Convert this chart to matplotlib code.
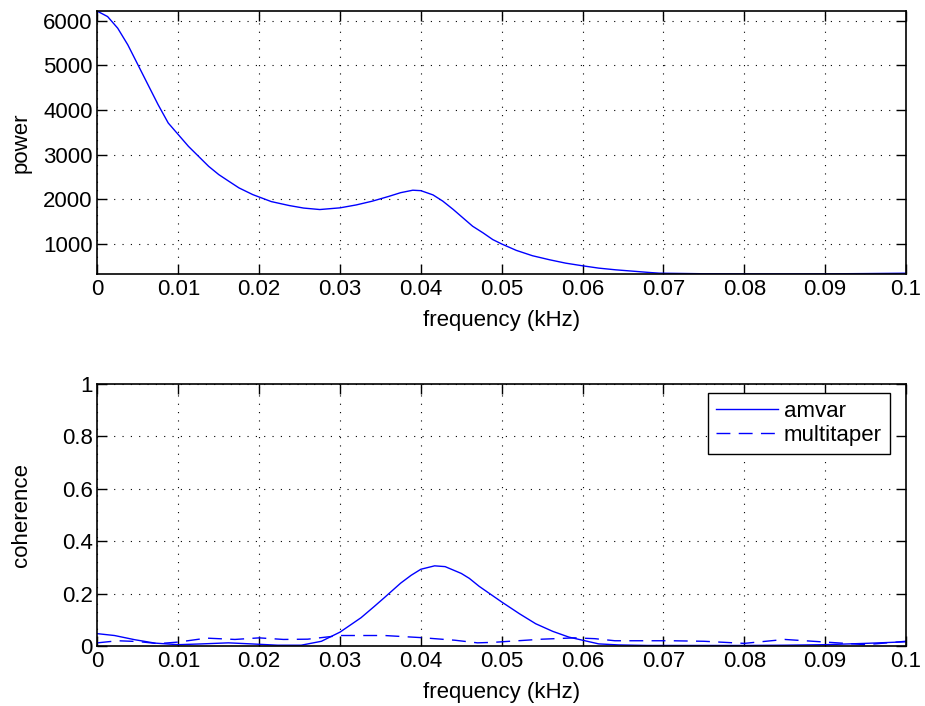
import matplotlib
matplotlib.use("Agg")
import matplotlib.pyplot as plt
import numpy as np

plt.rcParams['font.family'] = ['Liberation Sans', 'DejaVu Sans']
plt.rcParams['font.size'] = 16

# power spectrum
f_pow = [0, 0.00125, 0.0025, 0.00375, 0.005, 0.00625, 0.0075, 0.00875, 0.01, 0.01125,
         0.0125, 0.01375, 0.015, 0.01625, 0.0175, 0.0192, 0.0215, 0.0237, 0.0255, 0.0275,
         0.03, 0.032, 0.034, 0.036, 0.0375, 0.039, 0.04, 0.0415, 0.0427, 0.044,
         0.0452, 0.0464, 0.0477, 0.0489, 0.05, 0.0518, 0.0538, 0.0559, 0.0579, 0.06,
         0.062, 0.0641, 0.0662, 0.0683, 0.0695, 0.075, 0.08, 0.085, 0.09, 0.095, 0.1]
power = [6215, 6096, 5836, 5463, 5016, 4568, 4121, 3711, 3450, 3188,
         2964, 2740, 2555, 2405, 2257, 2107, 1950, 1862, 1805, 1772,
         1810, 1875, 1960, 2065, 2150, 2205, 2195, 2100, 1962, 1774,
         1586, 1398, 1248, 1098, 1000, 857, 737, 647, 571, 511,
         459, 421, 391, 361, 346, 333, 330, 329, 331, 337, 345]

# coherence, amvar (solid)
f_am = [0, 0.0021, 0.0046, 0.0071, 0.01, 0.0129, 0.0162, 0.019, 0.0223, 0.0252,
        0.0277, 0.03, 0.0326, 0.0342, 0.0355, 0.0375, 0.0388, 0.04, 0.0417, 0.043,
        0.045, 0.046, 0.0472, 0.05, 0.0522, 0.0542, 0.0563, 0.0583, 0.06, 0.062,
        0.0645, 0.068, 0.075, 0.08, 0.085, 0.09, 0.095, 0.1]
coh_am = [0.047, 0.040, 0.024, 0.011, 0.005, 0.008, 0.012, 0.008, 0.003, 0.003,
          0.018, 0.053, 0.108, 0.15, 0.185, 0.24, 0.27, 0.293, 0.306, 0.303,
          0.277, 0.258, 0.228, 0.168, 0.123, 0.085, 0.056, 0.034, 0.022, 0.008,
          0.004, 0.002, 0.002, 0.002, 0.003, 0.005, 0.01, 0.016]

# coherence, multitaper (dashed)
f_mt = [0, 0.0025, 0.005, 0.0075, 0.01, 0.0135, 0.017, 0.02, 0.023, 0.026,
        0.028, 0.03, 0.033, 0.0355, 0.04, 0.0442, 0.047, 0.049, 0.052, 0.055,
        0.059, 0.0615, 0.064, 0.067, 0.071, 0.075, 0.08, 0.085, 0.09, 0.095, 0.1]
coh_mt = [0.012, 0.02, 0.017, 0.009, 0.015, 0.03, 0.025, 0.031, 0.025, 0.026,
          0.033, 0.04, 0.04, 0.04, 0.032, 0.022, 0.012, 0.014, 0.02, 0.026,
          0.031, 0.028, 0.02, 0.02, 0.02, 0.018, 0.01, 0.025, 0.015, 0.005, 0.018]

fig = plt.figure(figsize=(9.25, 7.06), dpi=100)
ax1 = fig.add_axes([0.1054, 0.612, 0.874, 0.3726])
ax2 = fig.add_axes([0.1054, 0.085, 0.874, 0.371])

def style(ax):
    ax.grid(True, linestyle=(0, (1, 6.5)), color='black', linewidth=0.8)
    ax.tick_params(direction='in', top=True, right=True, length=7, width=1)
    for s in ax.spines.values():
        s.set_linewidth(1.2)
    ax.set_xlim(0, 0.1)
    ax.set_xticks(np.arange(0, 0.101, 0.01))
    ax.set_xticklabels(['0', '0.01', '0.02', '0.03', '0.04', '0.05', '0.06',
                        '0.07', '0.08', '0.09', '0.1'])
    ax.set_xlabel('frequency (kHz)', labelpad=7)
    ax.yaxis.set_label_coords(-0.081, 0.5)

ax1.plot(f_pow, power, color='blue', linewidth=1)
style(ax1)
ax1.set_ylim(329, 6224)
ax1.set_yticks([1000, 2000, 3000, 4000, 5000, 6000])
ax1.set_ylabel('power')

ax2.plot(f_am, coh_am, color='blue', linewidth=1, label='amvar')
ax2.plot(f_mt, coh_mt, color='blue', linewidth=1, linestyle=(0, (10, 6)), label='multitaper')
style(ax2)
ax2.set_ylim(0, 1)
ax2.set_yticks([0, 0.2, 0.4, 0.6, 0.8, 1])
ax2.set_yticklabels(['0', '0.2', '0.4', '0.6', '0.8', '1'])
ax2.set_ylabel('coherence')
leg = ax2.legend(loc='upper right', bbox_to_anchor=(0.98, 0.966), borderaxespad=0,
                 fancybox=False, framealpha=1, edgecolor='black',
                 handlelength=2.8, handletextpad=0.25, labelspacing=0.15, borderpad=0.35)
leg.get_frame().set_linewidth(1)

fig.savefig('out.png', dpi=100)
